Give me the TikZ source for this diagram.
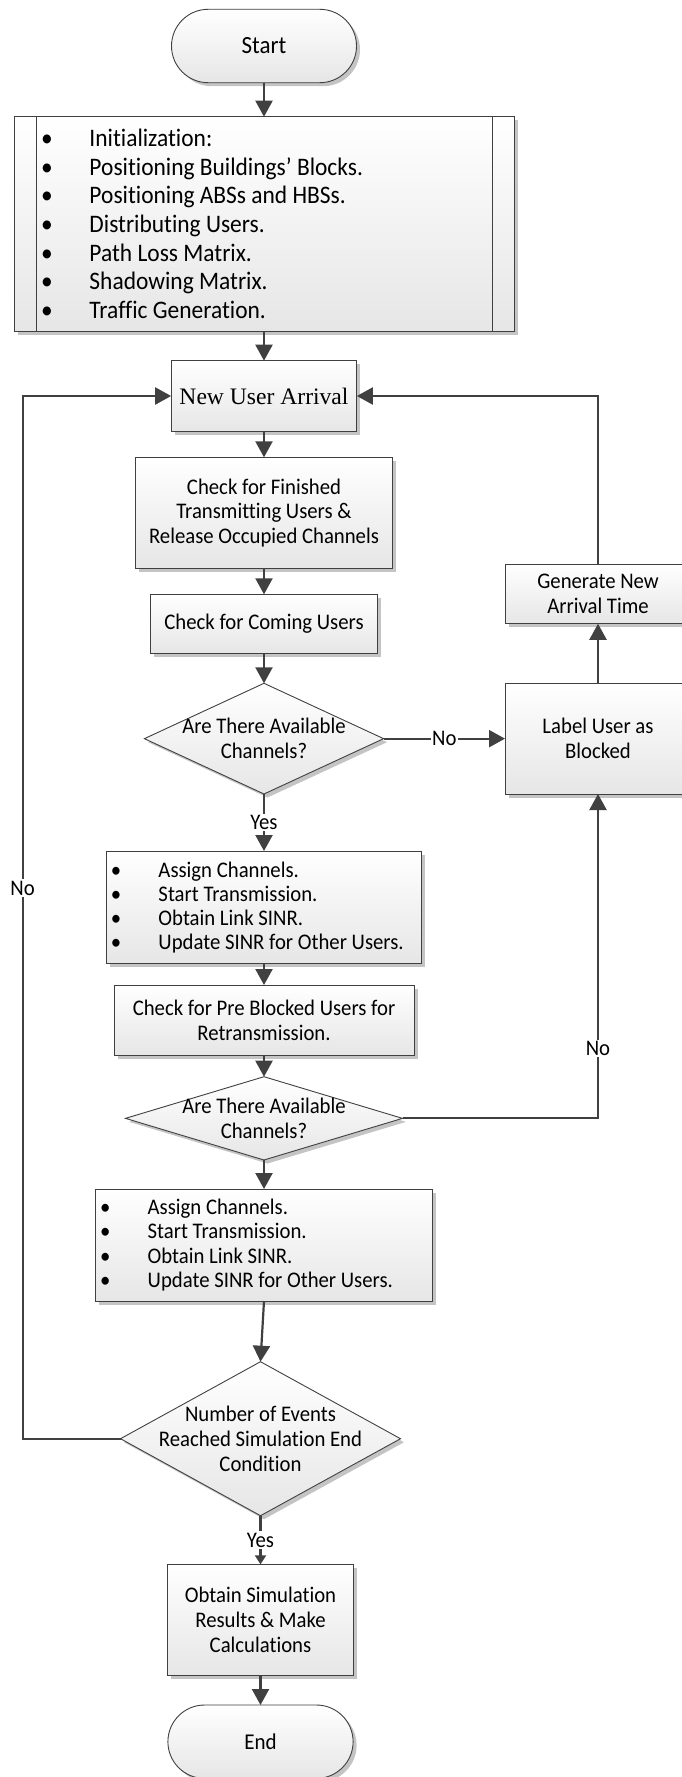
\documentclass[tikz,border=0pt]{standalone}
\usepackage{fontspec}
\setmainfont{Carlito}[Ligatures=NoCommon, FakeStretch=0.93]
\newfontfamily\seriffont{Liberation Serif}
\usetikzlibrary{shapes.geometric,arrows.meta,shadows}

\definecolor{ink}{HTML}{404040}
\definecolor{boxbottom}{HTML}{E6E6E6}
\definecolor{shadowgray}{HTML}{C4C4C4}

% bullet centred on the line start, text after a fixed indent
\newcommand\bitem{\makebox[0pt]{\textbullet}\hspace{42.5pt}}

\tikzset{
  x=1pt, y=1pt,
  every node/.style={inner sep=0pt, outer sep=0pt},
  base/.style={draw=ink, line width=0.9pt, top color=white, bottom color=boxbottom,
    drop shadow={shadow xshift=3.5pt, shadow yshift=-3.5pt, fill=shadowgray, opacity=1}},
  procbox/.style={base, rectangle, align=center, font=\fontsize{22.3}{24.8}\selectfont},
  terminal/.style={base, rectangle, rounded corners=36.7pt, font=\fontsize{22.6}{24}\selectfont},
  decision/.style={base, diamond},
  dtext/.style={align=center, font=\fontsize{22.3}{24.8}\selectfont},
  listtext/.style={align=left, anchor=west, font=\fontsize{22.3}{24.1}\selectfont},
  conn/.style={draw=ink, line width=2.2pt, -{Triangle[length=16pt,width=17pt]}},
  connsmall/.style={draw=ink, line width=2.2pt, -{Triangle[length=9pt,width=11pt]}},
  lbl/.style={fill=white, inner sep=1.5pt, font=\fontsize{22.3}{24}\selectfont},
}

\begin{document}
\begin{tikzpicture}
\useasboundingbox (0,0) rectangle (682,-1777);

% ---- blocks ----
\node[terminal, minimum width=185pt, minimum height=73.4pt, font=\fontsize{24.7}{26}\selectfont] (start) at (264,-46) {Start};

\node[base, rectangle, minimum width=500.2pt, minimum height=214.3pt] (init) at (264.5,-223.85) {};
\draw[ink, line width=0.9pt] ([xshift=21.7pt]init.north west) -- ([xshift=21.7pt]init.south west)
  ([xshift=-21.7pt]init.north east) -- ([xshift=-21.7pt]init.south east);
\node[listtext, font=\fontsize{25.2}{28.7}\selectfont] (initlist) at (47,-223.85)
  {\bitem Initialization:\\
   \bitem Positioning Buildings’ Blocks.\\
   \bitem Positioning ABSs and HBSs.\\
   \bitem Distributing Users.\\
   \bitem Path Loss Matrix.\\
   \bitem Shadowing Matrix.\\
   \bitem Traffic Generation.};

\node[procbox, minimum width=185.7pt, minimum height=70.6pt, font=\seriffont\fontsize{23.6}{26}\selectfont] (nua) at (264,-396) {New User Arrival};

\node[procbox, minimum width=256.2pt, minimum height=111.4pt] (check) at (264,-513)
  {Check for Finished\\Transmitting Users \&\\Release Occupied Channels};

\node[procbox, minimum width=226.5pt, minimum height=59pt] (coming) at (264,-623.8) {Check for Coming Users};

\node[decision, minimum width=239.2pt, minimum height=110.7pt] (dia1) at (264,-738.65) {};
\node[dtext] (dia1txt) at (dia1) {Are There Available\\Channels?};

\node[procbox, minimum width=186pt, minimum height=59.5pt] (gen) at (598,-594) {Generate New\\Arrival Time};
\node[procbox, minimum width=186pt, minimum height=110.7pt] (blocked) at (598,-738.65) {Label User as\\Blocked};

\node[base, rectangle, minimum width=315.2pt, minimum height=112.7pt] (assign1) at (264,-907.35) {};
\node[listtext] (assign1list) at (116,-907.35)
  {\bitem Assign Channels.\\
   \bitem Start Transmission.\\
   \bitem Obtain Link SINR.\\
   \bitem Update SINR for Other Users.};

\node[procbox, minimum width=300pt, minimum height=70pt] (recheck) at (264,-1020)
  {Check for Pre Blocked Users for\\Retransmission.};

\node[decision, minimum width=277pt, minimum height=83.3pt] (dia2) at (264,-1118.35) {};
\node[dtext] (dia2txt) at (dia2) {Are There Available\\Channels?};

\node[base, rectangle, minimum width=337.4pt, minimum height=112pt] (assign2) at (264,-1245) {};
\node[listtext] (assign2list) at (105.2,-1245)
  {\bitem Assign Channels.\\
   \bitem Start Transmission.\\
   \bitem Obtain Link SINR.\\
   \bitem Update SINR for Other Users.};

\node[decision, minimum width=280pt, minimum height=154pt] (dia3) at (260.5,-1438.7) {};
\node[dtext] (dia3txt) at (dia3) {Number of Events\\Reached Simulation End\\Condition};

\node[procbox, minimum width=185.2pt, minimum height=111.4pt] (obtain) at (260.5,-1620)
  {Obtain Simulation\\Results \& Make\\Calculations};

\node[terminal, minimum width=185.2pt, minimum height=73.4pt] (end) at (260.5,-1741.7) {End};

% ---- connectors ----
\coordinate (loopturn) at (22.6,-396);
\draw[conn] (start.south) -- (start.south |- init.north);
\draw[conn] (nua.north |- init.south) -- (nua.north);
\draw[conn] (nua.south) -- (check.north);
\draw[conn] (check.south) -- (coming.north);
\draw[conn] (coming.south) -- (dia1.north);
\draw[conn] (dia1.east) -- node[lbl] {No} (blocked.west);
\draw[conn] (blocked.north) -- (gen.south);
\draw[conn] (gen.north) |- (nua.east);
\draw[conn] (dia1.south) -- node[lbl] {Yes} (assign1.north);
\draw[conn] (assign1.south) -- (recheck.north);
\draw[conn] (recheck.south) -- (dia2.north);
\draw[conn] (dia2.east) -| node[lbl, pos=0.608] {No} (blocked.south);
\draw[conn] (dia2.south) -- (assign2.north);
\draw[conn] (assign2.south) -- (dia3.north);
\draw[conn] (dia3.west) -| node[lbl, pos=0.764] {No} (loopturn) -- (nua.west);
\draw[connsmall] (dia3.south) -- node[lbl] {Yes} (obtain.north);
\draw[conn] (obtain.south) -- (end.north);
\end{tikzpicture}
\end{document}
